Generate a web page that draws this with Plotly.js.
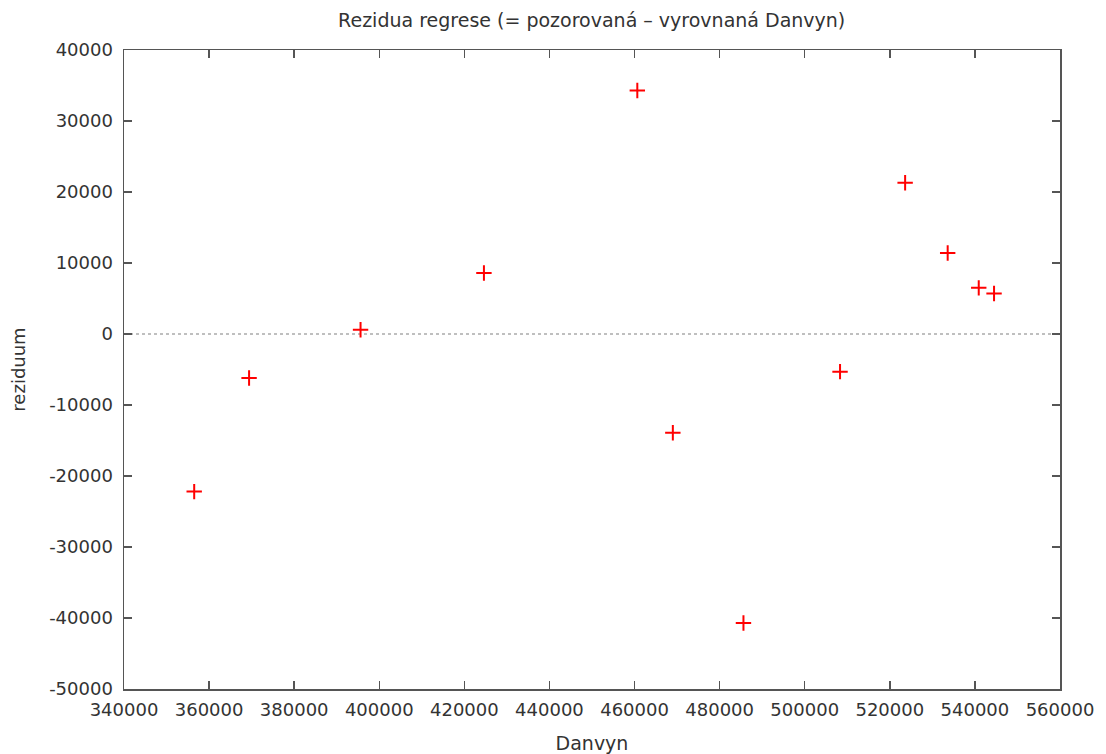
<!DOCTYPE html>
<html>
<head>
<meta charset="utf-8">
<script src="https://cdn.plot.ly/plotly-3.0.1.min.js"></script>
<style>html,body{margin:0;padding:0;background:#fff;}#chart{width:1106px;height:754px;}</style>
</head>
<body>
<div id="chart"></div>
<script>
const danvyn = [356500, 369400, 395600, 424600, 460650, 469000, 485600, 508300, 523600, 533600, 540900, 544500];
const reziduum = [-22200, -6200, 600, 8600, 34300, -13900, -40700, -5300, 21300, 11400, 6500, 5700];
const xTicks = [340000, 360000, 380000, 400000, 420000, 440000, 460000, 480000, 500000, 520000, 540000, 560000];
const yTicks = [-50000, -40000, -30000, -20000, -10000, 0, 10000, 20000, 30000, 40000];

const font = 'DejaVu Sans, Verdana, sans-serif';
const axisCommon = {
  showgrid: false, zeroline: false, showline: true, linecolor: '#555', linewidth: 1.5,
  mirror: 'ticks', ticks: 'inside', ticklen: 8, tickwidth: 1.5, tickcolor: '#555',
  tickfont: {family: font, size: 18, color: '#333'}
};

const trace = {
  x: danvyn, y: reziduum, type: 'scatter', mode: 'markers',
  marker: {symbol: 'cross-thin', size: 11, color: '#ff0000', line: {color: '#ff0000', width: 2}},
  hoverinfo: 'x+y'
};

const layout = {
  width: 1106, height: 754,
  margin: {l: 124, r: 46, t: 50, b: 65},
  paper_bgcolor: '#fff', plot_bgcolor: '#fff',
  showlegend: false,
  title: {text: 'Rezidua regrese (= pozorovaná – vyrovnaná Danvyn)', x: 0.535, xanchor: 'center', y: 0.973, yanchor: 'middle', font: {family: font, size: 19, color: '#333'}},
  xaxis: Object.assign({}, axisCommon, {
    range: [340000, 560000], tickvals: xTicks, ticktext: xTicks.map(String),
    ticklabelstandoff: 4,
    title: {text: 'Danvyn', font: {family: font, size: 19, color: '#333'}, standoff: 19}
  }),
  yaxis: Object.assign({}, axisCommon, {
    range: [-50000, 40000], tickvals: yTicks, ticktext: yTicks.map(String),
    ticklabelstandoff: 6,
    title: {text: 'reziduum', font: {family: font, size: 18, color: '#333'}, standoff: 19}
  }),
  shapes: [{type: 'line', xref: 'paper', x0: 0, x1: 1, yref: 'y', y0: 0, y1: 0,
    line: {color: '#aaa', width: 1.5, dash: 'dot'}, layer: 'below'}]
};

Plotly.newPlot('chart', [trace], layout, {displayModeBar: false, staticPlot: true});
</script>
</body>
</html>
